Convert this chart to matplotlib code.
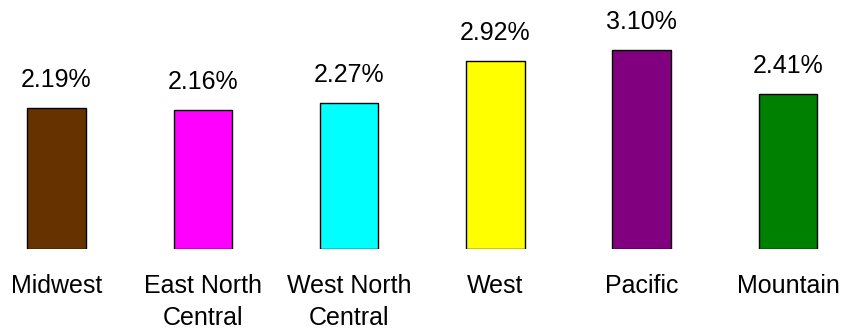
import matplotlib
matplotlib.use("Agg")
import matplotlib.pyplot as plt

categories = ["Midwest", "East North\nCentral", "West North\nCentral", "West", "Pacific", "Mountain"]
values = [2.19, 2.16, 2.27, 2.92, 3.10, 2.41]
labels = ["2.19%", "2.16%", "2.27%", "2.92%", "3.10%", "2.41%"]
colors = ["#663300", "#FF00FF", "#00FFFF", "#FFFF00", "#800080", "#008000"]

plt.rcParams['font.family'] = ['Liberation Sans', 'DejaVu Sans']
fig = plt.figure(figsize=(8.54, 3.29), dpi=100)
ax = fig.add_axes([0, 80/329, 1, 249/329])
xs = list(range(len(categories)))
ax.bar(xs, values, width=0.40, color=colors, edgecolor='black', linewidth=1.0)
ax.set_xlim(-56.5/146.3, (854-56.5)/146.3)
ax.set_ylim(0, 249/64.3)
ax.axis('off')

for x, v, lab in zip(xs, values, labels):
    ax.annotate(lab, xy=(x, v), xytext=(0, 15), textcoords='offset points',
                ha='center', va='baseline', fontsize=18)
for x, c in zip(xs, categories):
    ax.annotate(c, xy=(x, 0), xytext=(0, -18), textcoords='offset points',
                ha='center', va='top', fontsize=18, linespacing=1.4)

fig.savefig("out.png", dpi=100)
